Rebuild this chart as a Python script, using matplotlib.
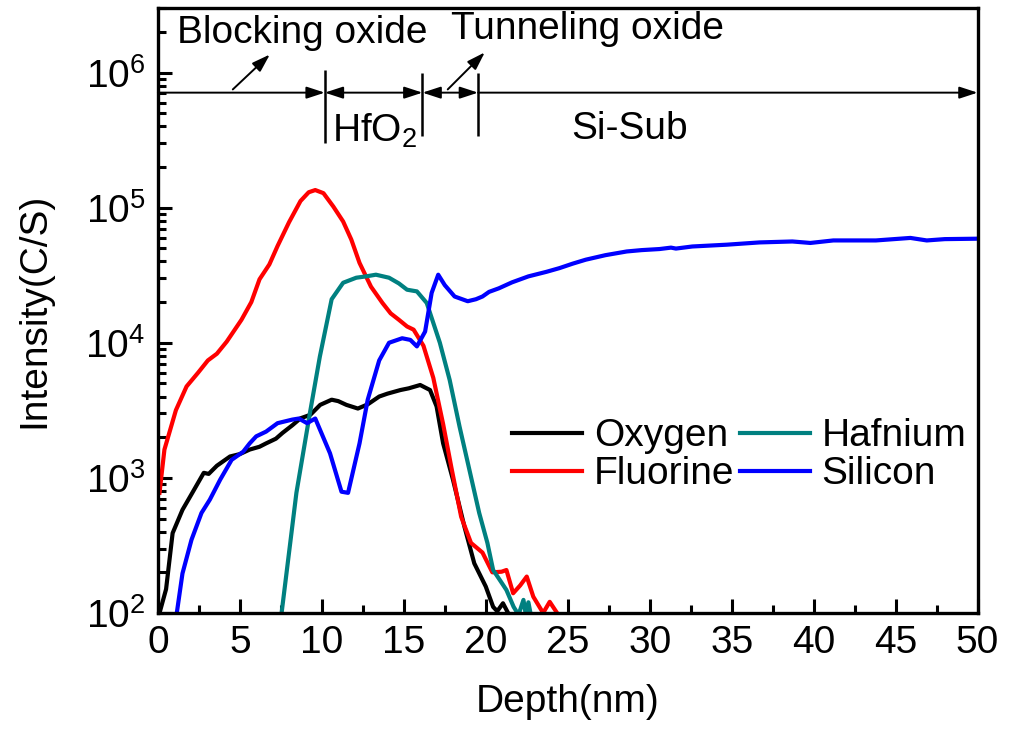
import numpy as np
import matplotlib
matplotlib.use("Agg")
import matplotlib.pyplot as plt
from matplotlib.ticker import MultipleLocator, LogLocator, NullFormatter

plt.rcParams['font.family'] = ['Liberation Sans', 'DejaVu Sans']
plt.rcParams['mathtext.fontset'] = 'custom'
plt.rcParams['mathtext.rm'] = 'Liberation Sans'
plt.rcParams['mathtext.it'] = 'Liberation Sans:italic'
plt.rcParams['mathtext.bf'] = 'Liberation Sans:bold'

# SIMS depth profile (depth in nm, intensity in counts/s)
oxygen_x = [0.05, 0.5, 0.9, 1.5, 2.1, 2.8, 3.1, 3.6, 4.4, 5.0, 5.6, 6.2, 6.6, 7.2, 7.6,
            8.2, 8.7, 9.3, 9.9, 10.6, 11.0, 11.5, 12.2, 12.8, 13.5, 14.0, 14.8, 15.3,
            16.0, 16.6, 17.0, 17.4, 18.0, 18.7, 19.3, 20.0, 20.45, 20.7, 21.05, 21.4]
oxygen_y = [95, 150, 390, 580, 775, 1090, 1070, 1230, 1440, 1500, 1620, 1700, 1800, 1950, 2150,
            2450, 2760, 2930, 3470, 3790, 3700, 3470, 3260, 3500, 4000, 4200, 4470, 4600,
            4870, 4470, 3380, 1800, 970, 435, 233, 157, 111, 103, 118, 98]

fluorine_x = [0.1, 0.4, 1.1, 1.75, 2.45, 3.05, 3.6, 4.2, 5.1, 5.7, 6.2, 6.8, 7.3, 8.0, 8.7,
              9.2, 9.6, 10.1, 10.7, 11.3, 11.8, 12.3, 13.0, 13.7, 14.2, 14.7, 15.2, 15.6,
              16.2, 16.8, 17.4, 17.9, 18.5, 19.1, 19.8, 20.4, 20.96, 21.26, 21.67, 22.1,
              22.5, 22.9, 23.5, 23.9, 24.6]
fluorine_y = [775, 1620, 3170, 4750, 6000, 7400, 8300, 10200, 14800, 20000, 29500, 38000,
              52000, 78000, 112000, 130000, 135000, 128000, 102000, 79000, 58000, 39000,
              26000, 19700, 16500, 14800, 13200, 12500, 9500, 5500, 2500, 1200, 515, 330,
              280, 200, 202, 208, 140, 160, 186, 132, 100, 121, 90]

hafnium_x = [7.5, 8.45, 9.27, 9.88, 10.6, 11.3, 12.1, 12.7, 13.3, 14.1, 14.7, 15.2, 15.8,
             16.4, 17.2, 17.8, 18.4, 19.0, 19.6, 20.1, 20.45, 20.85, 21.26, 21.7, 22.0,
             22.3, 22.45, 22.6, 22.8]
hafnium_y = [90, 775, 3000, 7900, 21000, 27800, 30300, 31000, 31900, 30300, 27500, 24700,
             24000, 19700, 10000, 5300, 2400, 1150, 550, 330, 208, 176, 148, 111, 97,
             125, 96, 120, 90]

silicon_x = [1.1, 1.5, 2.05, 2.66, 3.17, 3.8, 4.5, 5.2, 5.6, 6.0, 6.6, 7.3, 8.2, 8.6, 9.1,
             9.6, 10.5, 11.2, 11.6, 12.3, 12.8, 13.5, 14.1, 14.9, 15.4, 15.8, 16.3, 16.7,
             17.1, 17.5, 18.1, 18.9, 19.4, 19.8, 20.2, 20.8, 21.6, 22.6, 23.7, 24.5, 25.3,
             26.1, 27.3, 28.6, 29.5, 30.6, 31.3, 31.6, 32.6, 34.7, 36.7, 38.7, 39.8, 41.2,
             43.8, 45.9, 46.9, 48.0, 49.9, 50.0]
silicon_y = [90, 196, 348, 550, 690, 970, 1360, 1560, 1800, 2030, 2200, 2540, 2700, 2750,
             2540, 2750, 1520, 790, 775, 1800, 3790, 7400, 10000, 10800, 10500, 9400, 12100,
             23400, 31900, 26700, 22000, 20300, 21000, 22000, 23800, 25300, 28000, 31000,
             33500, 35700, 38500, 41200, 44500, 47400, 48500, 49400, 50600, 49800, 51600,
             53200, 55300, 56200, 54800, 57200, 57200, 59700, 57200, 58500, 58900, 59000]

# layer boundaries (nm) and annotation level
bounds = [10.18, 16.14, 19.53]
arrow_y = 7.1e5

fig = plt.figure(figsize=(10.12, 7.35), dpi=100)
ax = fig.add_axes([0.156, 0.166, 0.81, 0.823])

lw = 3.0
ax.plot(oxygen_x, oxygen_y, color='black', lw=lw, label='Oxygen')
ax.plot(fluorine_x, fluorine_y, color='#ff0000', lw=lw, label='Fluorine')
ax.plot(hafnium_x, hafnium_y, color='#008080', lw=lw, label='Hafnium')
ax.plot(silicon_x, silicon_y, color='#0000ff', lw=lw, label='Silicon')

ax.set_yscale('log')
ax.set_xlim(0, 50)
ax.set_ylim(100, 3e6)

fs = 28
ax.xaxis.set_major_locator(MultipleLocator(5))
ax.xaxis.set_minor_locator(MultipleLocator(2.5))
ax.yaxis.set_major_locator(LogLocator(base=10))
ax.yaxis.set_minor_locator(LogLocator(base=10, subs=np.arange(2, 10)))
ax.yaxis.set_minor_formatter(NullFormatter())
ax.tick_params(which='both', direction='in', top=False, right=False, width=2.2)
ax.tick_params(which='major', length=10, labelsize=fs, pad=9)
ax.tick_params(which='minor', length=6)
for s in ax.spines.values():
    s.set_linewidth(2.4)

ax.set_xlabel('Depth(nm)', fontsize=fs, labelpad=16)
ax.set_ylabel('Intensity(C/S)', fontsize=fs, labelpad=24)

# layer annotation: horizontal arrow line with boundary markers
hs = 'head_length=0.55,head_width=0.18'
akw = dict(color='black', lw=1.4, shrinkA=0, shrinkB=0, mutation_scale=20)
ax.annotate('', xy=(bounds[0], arrow_y), xytext=(0, arrow_y),
            arrowprops=dict(arrowstyle='-|>,' + hs, **akw))
ax.annotate('', xy=(bounds[1], arrow_y), xytext=(bounds[0], arrow_y),
            arrowprops=dict(arrowstyle='<|-|>,' + hs, **akw))
ax.annotate('', xy=(bounds[2], arrow_y), xytext=(bounds[1], arrow_y),
            arrowprops=dict(arrowstyle='<|-|>,' + hs, **akw))
ax.annotate('', xy=(50, arrow_y), xytext=(bounds[2], arrow_y),
            arrowprops=dict(arrowstyle='-|>,' + hs, **akw),
            annotation_clip=False)
ax.vlines(bounds[0], 3.0e5, 1.05e6, color='black', lw=1.8)
ax.vlines(bounds[1], 3.4e5, 1.0e6, color='black', lw=1.8)
ax.vlines(bounds[2], 3.4e5, 1.0e6, color='black', lw=1.8)

# pointers to the thin oxide layers
pkw = dict(arrowstyle='-|>,' + hs, color='black', lw=1.4,
           shrinkA=0, shrinkB=0, mutation_scale=20)
ax.annotate('', xy=(6.83, 1.36e6), xytext=(4.57, 7.5e5), arrowprops=pkw)
ax.annotate('', xy=(19.94, 1.41e6), xytext=(17.68, 7.5e5), arrowprops=pkw)

ax.text(8.78, 1.95e6, 'Blocking oxide', fontsize=fs, ha='center', va='center')
ax.text(26.2, 2.1e6, 'Tunneling oxide', fontsize=fs, ha='center', va='center')
ax.text(13.2, 3.7e5, r'HfO$_2$', fontsize=fs, ha='center', va='center')
ax.text(28.8, 3.8e5, 'Si-Sub', fontsize=fs, ha='center', va='center')

handles, labels = ax.get_legend_handles_labels()
ax.legend(handles, labels, ncol=2,
          loc='upper left', bbox_to_anchor=(0.432, 0.322), frameon=False,
          fontsize=fs, handlelength=1.8, handletextpad=0.3, columnspacing=0.15,
          labelspacing=0.05, borderpad=0, borderaxespad=0)

fig.savefig('out.png', dpi=100)
